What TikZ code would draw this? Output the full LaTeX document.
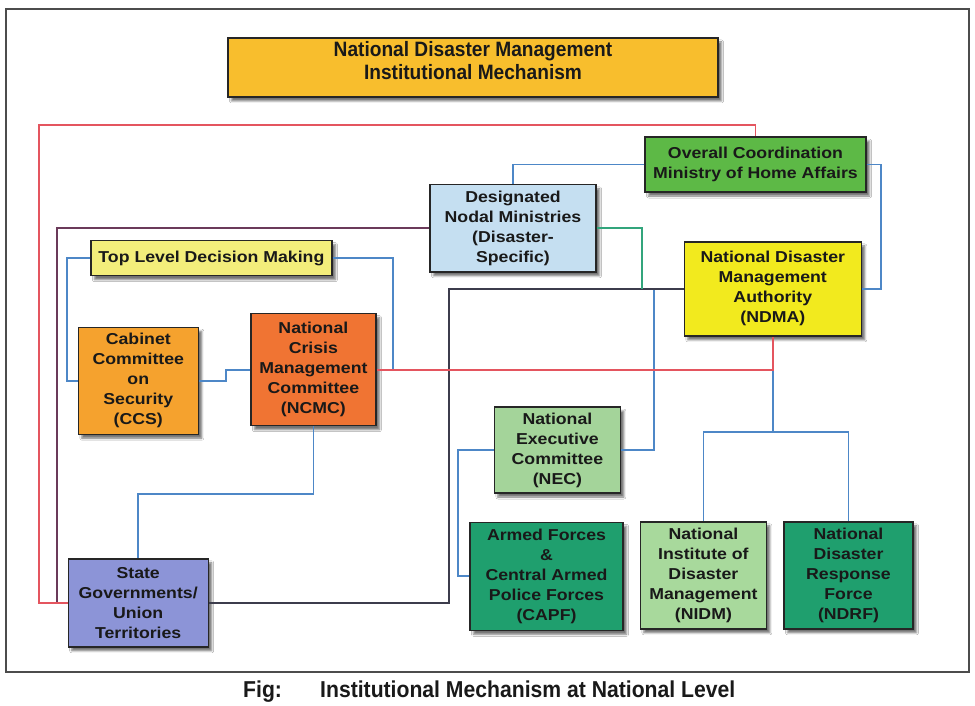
\documentclass[tikz,border=0pt]{standalone}
\usepackage{fontspec}
\setmainfont{Liberation Sans}
\newfontfamily\boxfont{Liberation Sans}[FakeStretch=1.12]
\newfontfamily\capfont{Liberation Sans}[FakeStretch=0.92]
\usetikzlibrary{shadows.blur}
\definecolor{titlefill}{HTML}{F8BE2D}
\definecolor{overallfill}{HTML}{5DB946}
\definecolor{nodalfill}{HTML}{C5DFF1}
\definecolor{tldmfill}{HTML}{F3EE7B}
\definecolor{ndmafill}{HTML}{F2EA1E}
\definecolor{ccsfill}{HTML}{F5A22E}
\definecolor{ncmcfill}{HTML}{F07433}
\definecolor{necfill}{HTML}{A4D49A}
\definecolor{statefill}{HTML}{8C94D7}
\definecolor{darkgreenfill}{HTML}{1F9F6E}
\definecolor{nidmfill}{HTML}{A8D99C}
\definecolor{redline}{HTML}{E4555F}
\definecolor{blueline}{HTML}{4D87C7}
\definecolor{greenline}{HTML}{32A57C}
\definecolor{darkline}{HTML}{3C3C4C}
\definecolor{purpleline}{HTML}{6B3A5A}
\begin{document}
\begin{tikzpicture}[x=1pt,y=-1pt,
  box/.style={draw=black!85, line width=1.4pt, align=center, inner sep=0pt, text=black!90,
    font=\boxfont\bfseries\fontsize{15.8}{20}\selectfont,
    blur shadow={shadow xshift=3.5pt, shadow yshift=-4pt, shadow blur radius=2pt, shadow opacity=55}},
  conn/.style={line width=1.8pt},
  rd/.style={conn, draw=redline},
  bl/.style={conn, draw=blueline},
  gr/.style={conn, draw=greenline},
  dk/.style={conn, draw=darkline},
  pu/.style={conn, draw=purpleline},
  captext/.style={anchor=base west, inner sep=0pt, text=black!90, font=\capfont\bfseries\fontsize{23}{25}\selectfont}
]
\useasboundingbox (0,0) rectangle (975,706);
\fill[white] (0,0) rectangle (975,706);
\draw[line width=1.5pt, black!70] (6,9) rectangle (969,672);

% boxes
\node[box, fill=titlefill, minimum width=490pt, minimum height=59pt, text depth=14pt,
  font=\capfont\bfseries\fontsize{20.8}{23}\selectfont] (title) at (473,67.5)
  {National Disaster Management\\Institutional Mechanism};
\node[box, fill=overallfill, minimum width=221pt, minimum height=55pt] (overall) at (755.5,164.5)
  {Overall Coordination\\Ministry of Home Affairs};
\node[box, fill=nodalfill, minimum width=166pt, minimum height=87pt] (nodal) at (513,228.3)
  {Designated\\Nodal Ministries\\(Disaster-\\Specific)};
\node[box, fill=tldmfill, minimum width=241pt, minimum height=35pt] (tldm) at (211.4,258.2)
  {Top Level Decision Making};
\node[box, fill=ndmafill, minimum width=177pt, minimum height=94pt] (ndma) at (772.8,288.9)
  {National Disaster\\Management\\Authority\\(NDMA)};
\node[box, fill=ccsfill, minimum width=120pt, minimum height=107pt] (ccs) at (138.3,380.7)
  {Cabinet\\Committee\\on\\Security\\(CCS)};
\node[box, fill=ncmcfill, minimum width=125pt, minimum height=112pt] (ncmc) at (313.4,369.7)
  {National\\Crisis\\Management\\Committee\\(NCMC)};
\node[box, fill=necfill, minimum width=126pt, minimum height=86pt] (nec) at (557.4,450)
  {National\\Executive\\Committee\\(NEC)};
\node[box, fill=statefill, minimum width=140pt, minimum height=88pt] (state) at (138.2,602.8)
  {State\\Governments/\\Union\\Territories};
\node[box, fill=darkgreenfill, minimum width=153pt, minimum height=108pt] (capf) at (546.5,576.3)
  {Armed Forces\\\&\\Central Armed\\Police Forces\\(CAPF)};
\node[box, fill=nidmfill, minimum width=126pt, minimum height=107pt] (nidm) at (703.4,575.3)
  {National\\Institute of\\Disaster\\Management\\(NIDM)};
\node[box, fill=darkgreenfill, minimum width=129pt, minimum height=107pt] (ndrf) at (848.5,575.3)
  {National\\Disaster\\Response\\Force\\(NDRF)};

% helper coordinates
\coordinate (rtop) at (0,125);
\coordinate (tj) at (393,369.7);
\coordinate (dj) at (654,288.9);
\coordinate (gj) at (642,288.9);
\coordinate (rj) at (ndma.south |- ncmc.east);
\coordinate (bj) at (772.8,432);

% blue connectors
\draw[bl] (tldm.west) -- (66.7,258.2) |- (ccs.west);
\draw[bl] (tldm.east) -| (tj);
\draw[bl] (ccs.east) -- (226,380.7) |- (ncmc.west);
\draw[bl] (ncmc.south) -- (313.4,494) -| (state.north);
\draw[bl] (overall.west) -| (nodal.north);
\draw[bl] (overall.east) -- (881,164.5) |- (ndma.east);
\draw[bl] (rj) -- (bj);
\draw[bl] (nidm.north) |- (bj) -| (ndrf.north);
\draw[bl] (nec.east) -| (dj);
\draw[bl] (nec.west) -- (458,450) |- (capf.west);

% dark, green, purple connectors
\draw[dk] (ndma.west) -- (449,288.9) |- (state.east);
\draw[gr] (nodal.east) -| (gj);
\draw[pu] (nodal.west) -- (56.7,228.3) |- (state.west);

% red connectors
\draw[rd] (state.west) -- (39,602.8) |- (overall.north |- rtop) -- (overall.north);
\draw[rd] (ncmc.east) -| (ndma.south);

% caption
\node[captext] (fig) at (243,697) {Fig:};
\node[captext] (cap) at (320,697) {Institutional Mechanism at National Level};
\end{tikzpicture}
\end{document}
